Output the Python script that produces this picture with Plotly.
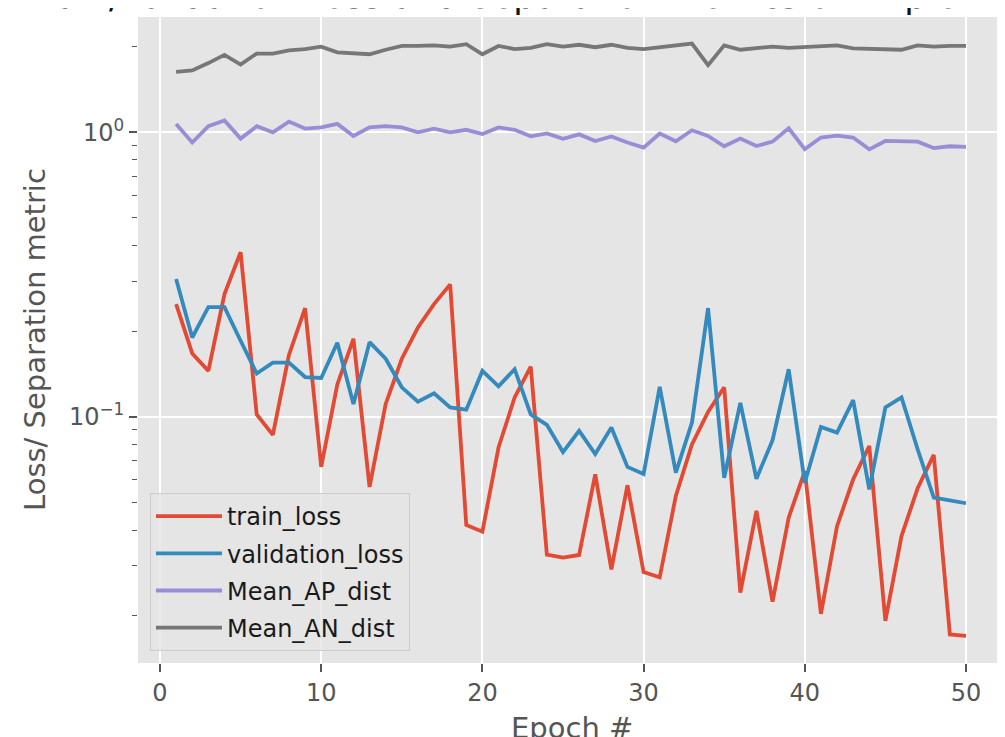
import plotly.graph_objects as go

epochs = list(range(1, 51))

train_loss = [0.249, 0.167, 0.145, 0.270, 0.379, 0.102, 0.0864, 0.165, 0.241, 0.0667,
              0.130, 0.188, 0.0567, 0.111, 0.160, 0.206, 0.249, 0.292, 0.0417, 0.0395,
              0.078, 0.117, 0.150, 0.0328, 0.0320, 0.0327, 0.0628, 0.0291, 0.0575, 0.0285,
              0.0273, 0.0527, 0.080, 0.104, 0.127, 0.0241, 0.0467, 0.0224, 0.0442, 0.0645,
              0.0203, 0.0413, 0.0603, 0.079, 0.0192, 0.0381, 0.0561, 0.0735, 0.0172, 0.0170]

validation_loss = [0.305, 0.190, 0.243, 0.243, 0.185, 0.142, 0.155, 0.155, 0.138, 0.137,
                   0.182, 0.111, 0.183, 0.160, 0.127, 0.113, 0.121, 0.108, 0.106, 0.145,
                   0.128, 0.147, 0.102, 0.0937, 0.0752, 0.0893, 0.074, 0.0917, 0.0667, 0.063,
                   0.1275, 0.0637, 0.0955, 0.241, 0.0611, 0.112, 0.0606, 0.0828, 0.147, 0.0587,
                   0.0922, 0.0880, 0.1145, 0.0556, 0.108, 0.117, 0.0769, 0.052, 0.0509, 0.0497]

mean_ap_dist = [1.07, 0.92, 1.05, 1.10, 0.95, 1.05, 1.0, 1.09, 1.03, 1.04,
                1.07, 0.97, 1.04, 1.05, 1.04, 1.0, 1.03, 1.0, 1.02, 0.986,
                1.04, 1.02, 0.968, 0.99, 0.948, 0.983, 0.932, 0.966, 0.92, 0.883,
                0.99, 0.93, 1.016, 0.97, 0.893, 0.95, 0.895, 0.927, 1.033, 0.873,
                0.958, 0.973, 0.958, 0.871, 0.932, 0.932, 0.927, 0.88, 0.893, 0.888]

mean_an_dist = [1.63, 1.65, 1.75, 1.87, 1.73, 1.89, 1.89, 1.94, 1.96, 2.0,
                1.91, 1.90, 1.88, 1.95, 2.01, 2.01, 2.02, 2.0, 2.04, 1.88,
                2.01, 1.96, 1.98, 2.04, 2.0, 2.03, 1.99, 2.03, 1.98, 1.96,
                1.99, 2.01, 2.05, 1.72, 2.02, 1.95, 1.97, 2.0, 1.98, 1.99,
                2.01, 2.02, 1.97, 1.96, 1.96, 1.95, 2.02, 2.0, 2.01, 2.01]

series_names = ["train_loss", "validation_loss", "Mean_AP_dist", "Mean_AN_dist"]
series_colors = ["#E24A33", "#348ABD", "#988ED5", "#777777"]
series_values = [train_loss, validation_loss, mean_ap_dist, mean_an_dist]

x_ticks = [0, 10, 20, 30, 40, 50]
y_ticks = [0.1, 1]
y_ticktext = ["10<sup>\u22121</sup>", "10<sup>0</sup>"]
y_minor = [0.02, 0.03, 0.04, 0.05, 0.06, 0.07, 0.08, 0.09,
           0.2, 0.3, 0.4, 0.5, 0.6, 0.7, 0.8, 0.9, 2]

title_text = "Train/Validation Loss and Separation Metrics on Triplet Dataset"
x_title = "Epoch #"
y_title = "Loss/ Separation metric"

FONT = "DejaVu Sans"
GRAY = "#555555"

fig = go.Figure()
for i, (name, color, vals) in enumerate(zip(series_names, series_colors, series_values)):
    fig.add_trace(go.Scatter(
        x=epochs, y=vals, mode="lines", name=name,
        line=dict(color=color, width=3.8),
        legendgroup=f"g{i}",
    ))

fig.update_layout(
    width=997, height=729,
    margin=dict(l=130, r=0, t=9, b=74),
    paper_bgcolor="white",
    plot_bgcolor="#E5E5E5",
    font=dict(family=FONT, size=24, color=GRAY),
    showlegend=True,
    legend=dict(
        x=0.0138, y=0.0186, xanchor="left", yanchor="bottom",
        bgcolor="rgba(229,229,229,0.8)", bordercolor="#CCCCCC", borderwidth=1,
        font=dict(family=FONT, size=24, color="#1a1a1a"),
        tracegroupgap=3,
        itemwidth=66,
    ),
    xaxis=dict(
        range=[-1.365, 52.42],
        tickvals=x_ticks,
        ticks="outside", ticklen=8, tickwidth=1.5, tickcolor=GRAY,
        tickfont=dict(family=FONT, size=24, color=GRAY),
        showgrid=True, gridcolor="white", gridwidth=1.8,
        zeroline=False, showline=False,
        automargin=False,
    ),
    yaxis=dict(
        type="log",
        range=[-1.865, 0.405],
        tickvals=y_ticks, ticktext=y_ticktext,
        ticks="outside", ticklen=8, tickwidth=1.5, tickcolor=GRAY,
        tickfont=dict(family=FONT, size=24, color=GRAY),
        showgrid=True, gridcolor="white", gridwidth=1.8,
        minor=dict(tickvals=y_minor, ticks="outside", ticklen=5,
                   tickwidth=1.2, tickcolor=GRAY, showgrid=False),
        zeroline=False, showline=False,
        automargin=False,
    ),
    annotations=[
        dict(text=title_text, xref="paper", yref="paper", x=0.5, y=1,
             xanchor="center", yanchor="bottom", yshift=-1, showarrow=False,
             font=dict(family=FONT, size=35, color="#111111")),
        dict(text=x_title, xref="paper", yref="paper", x=0.5, y=0,
             xanchor="center", yanchor="top", yshift=-46, showarrow=False,
             font=dict(family=FONT, size=29, color=GRAY)),
        dict(text=y_title, xref="paper", yref="paper", x=-0.1188, y=0.5,
             xanchor="center", yanchor="middle", textangle=-90, showarrow=False,
             font=dict(family=FONT, size=29, color=GRAY)),
    ],
)

fig.write_html("out.html")
